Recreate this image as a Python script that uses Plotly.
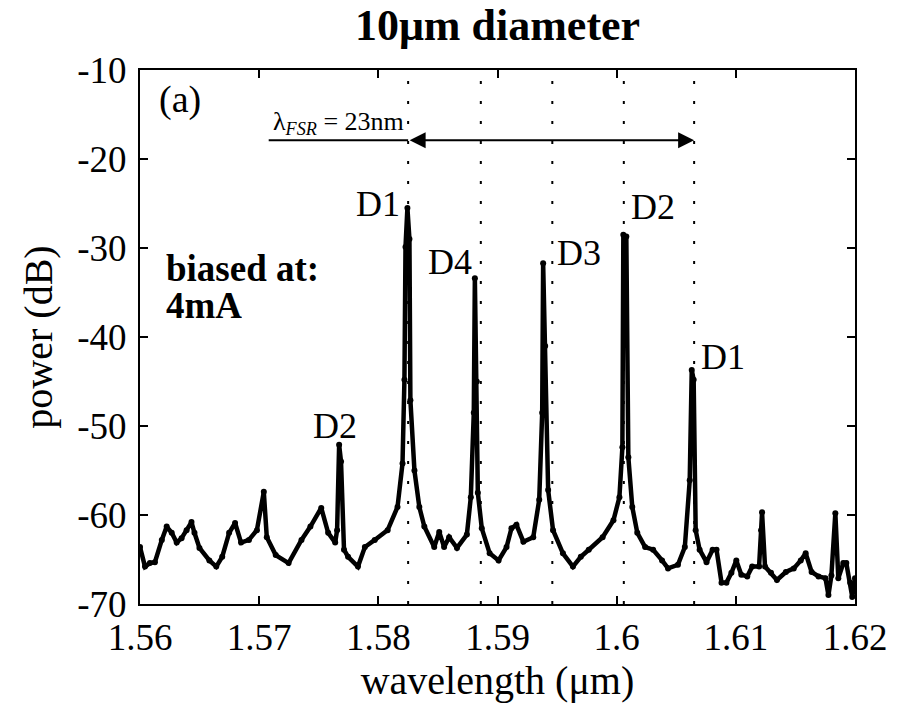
import plotly.graph_objects as go

# Measured optical spectrum of the 10 um microdisk laser
wavelength_um = [
    1.5600, 1.56042, 1.56083, 1.56125, 1.56183, 1.56224, 1.56266, 1.56308, 1.56349, 1.56391,
    1.56432, 1.56457, 1.56499, 1.56582, 1.56640, 1.56690, 1.56748, 1.56798, 1.56848, 1.56914,
    1.56981, 1.57039, 1.57064, 1.57139, 1.57247, 1.57355, 1.57430, 1.57521, 1.57579, 1.57638,
    1.57654, 1.57671, 1.57687, 1.57712, 1.57746, 1.57829, 1.57887, 1.57970, 1.58078, 1.58161,
    1.58203, 1.58219, 1.58228, 1.58244, 1.58261, 1.58269, 1.58303, 1.58344, 1.58386, 1.58469,
    1.58511, 1.58552, 1.58594, 1.58660, 1.58743, 1.58776, 1.58801, 1.58810, 1.58826, 1.58835,
    1.58868, 1.58934, 1.59009, 1.59076, 1.59117, 1.59159, 1.59217, 1.59300, 1.59350, 1.59375,
    1.59383, 1.59400, 1.59425, 1.59466, 1.59549, 1.59633, 1.59699, 1.59766, 1.59882, 1.59973,
    1.60023, 1.60048, 1.60056, 1.60081, 1.60098, 1.60131, 1.60173, 1.60239, 1.60306, 1.60381,
    1.60431, 1.60514, 1.60572, 1.60613, 1.60630, 1.60646, 1.60663, 1.60696, 1.60754, 1.60805,
    1.60838, 1.60880, 1.60921, 1.60963, 1.61004, 1.61046, 1.61096, 1.61137, 1.61195, 1.61212,
    1.61220, 1.61245, 1.61295, 1.61345, 1.61420, 1.61486, 1.61545, 1.61586, 1.61636, 1.61694,
    1.61752, 1.61777, 1.61802, 1.61835, 1.61860, 1.61902, 1.61927, 1.61960, 1.61977, 1.6200,
]
power_db = [
    -63.6, -65.8, -65.4, -65.3, -62.8, -61.3, -62.0, -63.1, -62.6, -61.7,
    -60.8, -62.0, -63.7, -65.1, -65.8, -64.7, -62.0, -60.9, -63.1, -62.8,
    -61.7, -57.4, -62.5, -64.5, -65.4, -62.8, -61.3, -59.2, -62.0, -63.1,
    -61.7, -52.1, -54.0, -63.9, -64.7, -65.8, -63.6, -62.8, -61.7, -59.1,
    -54.2, -44.8, -29.9, -25.5, -29.0, -47.1, -55.0, -59.1, -61.3, -63.6,
    -61.9, -63.6, -62.5, -63.7, -62.2, -58.0, -48.5, -33.4, -45.0, -57.5,
    -61.5, -64.3, -65.1, -63.6, -61.5, -61.1, -63.0, -62.5, -58.3, -48.5,
    -31.7, -41.0, -57.2, -61.7, -64.3, -65.8, -64.7, -63.9, -62.5, -60.6,
    -58.0, -52.4, -28.5, -28.7, -53.5, -59.1, -62.0, -63.6, -63.9, -65.1,
    -66.0, -65.6, -63.6, -56.1, -43.7, -44.8, -61.7, -63.9, -65.3, -63.9,
    -63.9, -67.6, -67.6, -66.5, -65.1, -66.7, -66.9, -65.8, -65.8, -61.7,
    -59.7, -65.8, -66.5, -67.3, -66.4, -66.0, -65.1, -64.3, -66.4, -66.9,
    -67.1, -69.0, -66.8, -59.8, -67.1, -65.4, -65.4, -67.6, -69.2, -67.1,
]

# Resonance positions (dotted guides) and the FSR arrow
mode_lines_um = [1.5825, 1.5886, 1.5946, 1.6006, 1.6065]
fsr_arrow_y = -17.9
fsr_lead_start = 1.5708

# Mode labels
mode_names = ["D2", "D1", "D4", "D3", "D2", "D1"]
mode_label_x = [1.57633, 1.58000, 1.58602, 1.59683, 1.60306, 1.60896]
mode_label_y = [-50.0, -25.1, -31.6, -30.6, -25.4, -42.2]

x_ticks = [1.56, 1.57, 1.58, 1.59, 1.60, 1.61, 1.62]
x_tick_text = ["1.56", "1.57", "1.58", "1.59", "1.6", "1.61", "1.62"]
y_ticks = [-70, -60, -50, -40, -30, -20, -10]
y_tick_text = ["-70", "-60", "-50", "-40", "-30", "-20", "-10"]

FONT = "Liberation Serif"

fig = go.Figure()
fig.add_trace(go.Scatter(
    x=wavelength_um, y=power_db, mode="lines+markers",
    line=dict(color="black", width=4.5),
    marker=dict(color="black", size=6),
    showlegend=False, hoverinfo="skip",
))

shapes = []
for xm in mode_lines_um:
    shapes.append(dict(type="line", xref="x", yref="y", x0=xm, x1=xm, y0=-70, y1=-10,
                       line=dict(color="black", width=2, dash="3px,17px")))
shapes.append(dict(type="line", xref="x", yref="y", x0=fsr_lead_start, x1=mode_lines_um[0],
                   y0=fsr_arrow_y, y1=fsr_arrow_y, line=dict(color="black", width=2)))

annotations = [
    dict(x=mode_lines_um[-1], y=fsr_arrow_y, ax=mode_lines_um[0], ay=fsr_arrow_y,
         xref="x", yref="y", axref="x", ayref="y", text="", showarrow=True,
         arrowside="end+start", arrowhead=2, startarrowhead=2,
         arrowsize=1.6, startarrowsize=1.6, arrowwidth=2, arrowcolor="black"),
    dict(x=1.57663, y=-16.0, xref="x", yref="y", showarrow=False,
         text="λ<sub><i>FSR</i></sub> = 23nm", font=dict(family=FONT, size=26, color="black")),
    dict(x=1.56333, y=-13.3, xref="x", yref="y", showarrow=False,
         text="(a)", font=dict(family=FONT, size=38, color="black")),
    dict(x=1.56200, y=-32.3, xref="x", yref="y", showarrow=False, xanchor="left",
         height=34, text="<b>biased at:</b>", font=dict(family=FONT, size=37, color="black")),
    dict(x=1.56200, y=-36.4, xref="x", yref="y", showarrow=False, xanchor="left",
         height=34, text="<b>4mA</b>", font=dict(family=FONT, size=37, color="black")),
]
for name, lx, ly in zip(mode_names, mode_label_x, mode_label_y):
    annotations.append(dict(x=lx, y=ly, xref="x", yref="y", showarrow=False, text=name,
                            font=dict(family=FONT, size=36, color="black")))

fig.update_layout(
    width=899, height=713,
    margin=dict(l=140, r=37, t=70, b=109),
    paper_bgcolor="white", plot_bgcolor="white",
    font=dict(family=FONT, size=37, color="black"),
    title=dict(text="<b>10μm diameter</b>", x=0.5, xref="paper", y=0.966, yref="container",
               xanchor="center", yanchor="middle", font=dict(family=FONT, size=44, color="black")),
    shapes=shapes, annotations=annotations,
)
fig.update_xaxes(
    range=[1.56, 1.62], tickvals=x_ticks, ticktext=x_tick_text,
    ticks="inside", ticklen=8, tickwidth=1.5, tickcolor="black",
    showline=True, linecolor="black", linewidth=2, mirror="ticks",
    showgrid=False, zeroline=False,
    title=dict(text="wavelength (μm)", font=dict(family=FONT, size=40), standoff=8),
)
fig.update_yaxes(
    range=[-70, -10], tickvals=y_ticks, ticktext=y_tick_text,
    ticks="inside", ticklen=8, tickwidth=1.5, tickcolor="black",
    showline=True, linecolor="black", linewidth=2, mirror="ticks",
    showgrid=False, zeroline=False, ticklabelstandoff=4,
    title=dict(text="power (dB)", font=dict(family=FONT, size=40), standoff=12),
)

fig.write_html("out.html")
